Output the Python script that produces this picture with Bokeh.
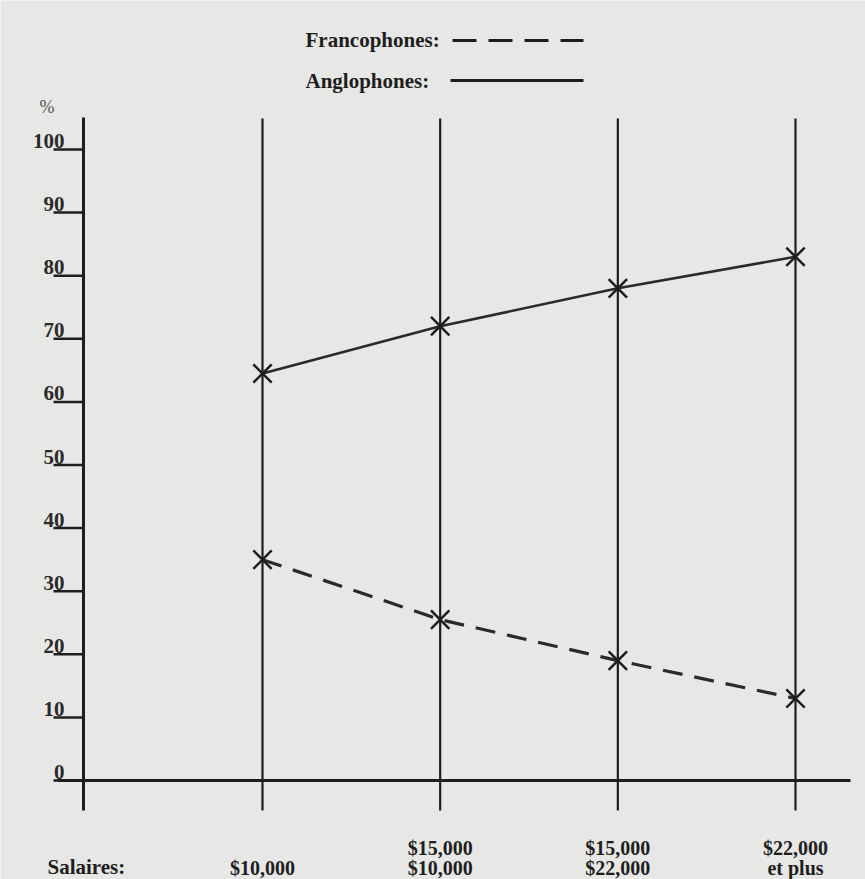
from bokeh.plotting import figure
from bokeh.embed import file_html
from bokeh.resources import INLINE
from bokeh.core.properties import value

# ---- data ----
cat_index = [0, 1, 2, 3]
cat_labels_top = ["", "$15,000", "$15,000", "$22,000"]
cat_labels_bottom = ["$10,000", "$10,000", "$22,000", "et plus"]
anglophones = [64.5, 72, 78, 83]
francophones = [35, 25.5, 19, 13]
y_ticks = [0, 10, 20, 30, 40, 50, 60, 70, 80, 90, 100]
y_tick_labels = ["0", "10", "20", "30", "40", "50", "60", "70", "80", "90", "100"]

# ---- layout ----
W, H = 865, 879
OFF = 0
XS = 177.67           # px per category step
x_start = -(262 - OFF) / XS
x_end = x_start + W / XS
YS = 6.31             # px per percent
y_end = 100 + (149 - OFF) / YS
y_start = y_end - H / YS


def X(px):
    return x_start + (px - OFF) / XS


def Y(py):
    return y_end - (py - OFF) / YS


BG = "#e7e7e5"
INK = "#1e1e1e"
FONT = value("Liberation Serif")

p = figure(width=W, height=H, x_range=(x_start, x_end), y_range=(y_start, y_end),
           output_backend="svg", toolbar_location=None, min_border=0, title=None,
           x_axis_type=None, y_axis_type=None, background_fill_color=BG,
           border_fill_color=BG, outline_line_color=None)
p.grid.visible = False

# vertical category lines
p.segment(x0=cat_index, y0=[Y(118)] * 4, x1=cat_index, y1=[Y(810)] * 4,
          line_color=INK, line_width=2.2)
# y axis line
p.segment(x0=[X(83)], y0=[Y(117)], x1=[X(83)], y1=[Y(810)], line_color=INK, line_width=3)
# baseline
p.segment(x0=[X(57)], y0=[0], x1=[X(850)], y1=[0], line_color=INK, line_width=3)
# tick marks
p.segment(x0=[X(53)] * len(y_ticks), y0=y_ticks, x1=[X(83)] * len(y_ticks), y1=y_ticks,
          line_color=INK, line_width=2.5)
# tick labels
p.text(x=[X(64)] * len(y_ticks), y=[t + 8.5 / YS for t in y_ticks], text=y_tick_labels,
       text_align="right", text_baseline="alphabetic", text_font=FONT,
       text_font_style="bold", text_font_size="21px", text_color="#2a2a2a")
p.text(x=[X(39)], y=[Y(106)], text=["%"], text_align="left", text_baseline="alphabetic",
       text_font=FONT, text_font_size="18px", text_color="#555555")

# data lines
p.line(cat_index, anglophones, line_color="#2a2a2a", line_width=2.6)
p.scatter(cat_index, anglophones, marker="x", size=26, line_color=INK, line_width=2.5)
p.line(cat_index, francophones, line_color="#2a2a2a", line_width=3.2, line_dash="20 12")
p.scatter(cat_index, francophones, marker="x", size=26, line_color=INK, line_width=2.5)

# category labels
p.text(x=cat_index, y=[Y(847)] * 4, text=cat_labels_top, text_align="center",
       text_baseline="alphabetic", text_font=FONT, text_font_style="bold",
       text_font_size="20px", text_color=INK)
p.text(x=cat_index, y=[Y(867)] * 4, text=cat_labels_bottom, text_align="center",
       text_baseline="alphabetic", text_font=FONT, text_font_style="bold",
       text_font_size="20px", text_color=INK)
p.text(x=[X(47)], y=[Y(866)], text=["Salaires:"], text_align="left",
       text_baseline="alphabetic", text_font=FONT, text_font_style="bold",
       text_font_size="21px", text_color=INK)

# legend
p.text(x=[X(305)] * 2, y=[Y(39), Y(80)], text=["Francophones:", "Anglophones:"],
       text_align="left", text_baseline="alphabetic", text_font=FONT,
       text_font_style="bold", text_font_size="21px", text_color=INK)
p.segment(x0=[X(452)], y0=[Y(40)], x1=[X(583)], y1=[Y(40)], line_color=INK,
          line_width=3.2, line_dash="24 12")
p.segment(x0=[X(450)], y0=[Y(80)], x1=[X(583)], y1=[Y(80)], line_color=INK,
          line_width=3.2)

open("out.html", "w").write(file_html(p, INLINE))
